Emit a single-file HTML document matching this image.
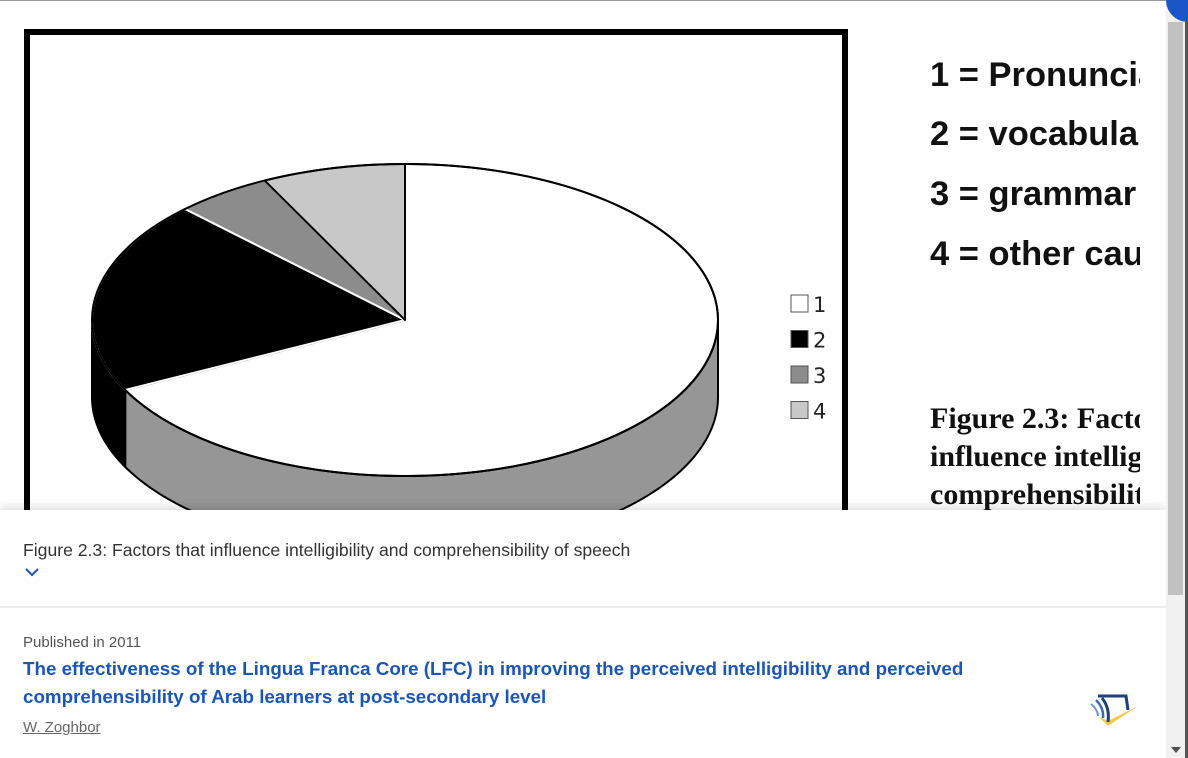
<!DOCTYPE html>
<html><head><meta charset="utf-8"><style>
html,body{margin:0;width:1188px;height:758px;overflow:hidden;background:#fff;font-family:"Liberation Sans",Arial,sans-serif;position:relative}
.abs{position:absolute}
.big{font-weight:bold;font-size:34.5px;color:#111;white-space:nowrap}
.ser{font-family:"Liberation Serif",serif;font-weight:bold;font-size:30px;color:#111;white-space:nowrap;line-height:38px}
</style></head><body>
<div class="abs" style="left:0;top:0;width:1188px;height:1px;background:#999"></div>
<div class="abs" style="left:0;top:1px;width:1140px;height:510px;overflow:hidden">
<svg id="pie" width="1140" height="510" style="position:absolute;left:0;top:0">
<rect x="27" y="31" width="818" height="520" fill="none" stroke="#000" stroke-width="6"/>
<g id="slices"></g>
<g id="legend" font-family="DejaVu Sans,sans-serif" font-size="21"></g>
</svg>
<div class="abs big" style="left:930px;top:55px">1 = Pronunciation</div>
<div class="abs big" style="left:930px;top:114px">2 = vocabulary</div>
<div class="abs big" style="left:930px;top:174px">3 = grammar</div>
<div class="abs big" style="left:930px;top:234px">4 = other causes</div>
<div class="abs ser" style="left:930px;top:399px">Figure 2.3: Factors that<br>influence intelligibility and<br>comprehensibility</div>
</div>
<div class="abs" style="left:0;top:510px;width:1166px;height:248px;background:#fff;box-shadow:0 -4px 8px rgba(0,0,0,0.12);overflow:hidden">
<div class="abs" style="left:23px;top:30px;font-size:17.6px;color:#333">Figure 2.3: Factors that influence intelligibility and comprehensibility of speech</div>
<svg class="abs" style="left:24px;top:56px" width="16" height="12"><path d="M2 3 L8 9 L14 3" fill="none" stroke="#1a56b8" stroke-width="2"/></svg>
<div class="abs" style="left:0;top:96px;width:1166px;height:2px;background:#eee"></div>
<div class="abs" style="left:23px;top:124px;font-size:15px;color:#555">Published in 2011</div>
<div class="abs" style="left:23px;top:145px;font-size:18.8px;font-weight:bold;color:#1a56b8;line-height:28px;width:980px">The effectiveness of the Lingua Franca Core (LFC) in improving the perceived intelligibility and perceived comprehensibility of Arab learners at post-secondary level</div>
<div class="abs" style="left:23px;top:209px;font-size:15px;color:#666;text-decoration:underline">W. Zoghbor</div>
<svg class="abs" style="left:1088px;top:184px" width="54" height="40">
<path d="M10 22 L20 32 L50 12 L20 27 Z" fill="#f3c94a"/>
<path d="M10 2 L38 2 L40 16" fill="none" stroke="#1f3f7a" stroke-width="3"/>
<path d="M14 4 Q22 14 20 28" fill="none" stroke="#1f3f7a" stroke-width="3"/>
<path d="M8 6 Q16 14 15 24" fill="none" stroke="#3d6bb3" stroke-width="2.5"/>
<path d="M3 10 Q10 16 10 22" fill="none" stroke="#6b95d1" stroke-width="2"/>
</svg>
</div>
<div class="abs" style="left:1166px;top:0;width:19px;height:758px;background:#f1f1f1"></div>
<div class="abs" style="left:1168px;top:22px;width:15px;height:573px;background:#c1c1c1"></div>
<svg class="abs" style="left:1170px;top:746px" width="12" height="8"><path d="M1 1 L11 1 L6 7 Z" fill="#505050"/></svg>
<div class="abs" style="left:1185px;top:0;width:3px;height:758px;background:#555"></div>
<div class="abs" style="left:1166px;top:-22px;width:44px;height:44px;border-radius:50%;background:#1a56c8"></div>
<script>
const categories=["1","2","3","4"];
const values=[67.6,20,5,7.4];
const topColors=["#ffffff","#000000","#8c8c8c","#c8c8c8"];
const sideColors=["#969696","#000000","#6e6e6e","#a0a0a0"];
const cx=405,cy=319,rx=313,ry=156,depth=77;
const NS="http://www.w3.org/2000/svg";
const g=document.getElementById('slices');
function P(t,d){const r=t*Math.PI/180;return [cx+rx*Math.sin(r),cy-ry*Math.cos(r)+(d||0)];}
const total=values.reduce((a,b)=>a+b,0);
let angles=[],acc=0;
values.forEach(v=>{angles.push([acc*360/total,(acc+v)*360/total]);acc+=v;});
angles.forEach((a,i)=>{
  const s=Math.max(a[0],90),e=Math.min(a[1],270);
  if(e<=s)return;
  let pts=[];
  for(let t=s;t<=e;t+=1)pts.push(P(t));pts.push(P(e));
  let back=[];
  for(let t=e;t>=s;t-=1)back.push(P(t,depth));back.push(P(s,depth));
  const p=document.createElementNS(NS,'polygon');
  p.setAttribute('points',pts.concat(back).map(q=>q.join(',')).join(' '));
  p.setAttribute('fill',sideColors[i]);p.setAttribute('stroke','#000');p.setAttribute('stroke-width','2');
  
  
  g.appendChild(p);
});
angles.forEach((a,i)=>{
  let pts=[[cx,cy]];
  for(let t=a[0];t<=a[1];t+=1)pts.push(P(t));pts.push(P(a[1]));
  const p=document.createElementNS(NS,'polygon');
  p.setAttribute('points',pts.map(q=>q.join(',')).join(' '));
  p.setAttribute('fill',topColors[i]);
  p.setAttribute('stroke',i==1||i==2?'#fff':'#000');p.setAttribute('stroke-width','2');
  p.setAttribute('stroke-linejoin','round');
  
  
  g.appendChild(p);
});
const el=document.createElementNS(NS,'ellipse');
el.setAttribute('cx',cx);el.setAttribute('cy',cy);el.setAttribute('rx',rx);el.setAttribute('ry',ry);
el.setAttribute('fill','none');el.setAttribute('stroke','#000');el.setAttribute('stroke-width','2');


g.appendChild(el);
const lg=document.getElementById('legend');
categories.forEach((c,i)=>{
  const y=294+i*35.5;
  const r=document.createElementNS(NS,'rect');
  r.setAttribute('x',791);r.setAttribute('y',y);r.setAttribute('width',17);r.setAttribute('height',17);
  r.setAttribute('fill',topColors[i]);r.setAttribute('stroke','#555');r.setAttribute('stroke-width','1');
  
  
  lg.appendChild(r);
  const t=document.createElementNS(NS,'text');
  t.setAttribute('x',813);t.setAttribute('y',y+17);t.textContent=c;t.setAttribute('fill','#222');
  
  
  lg.appendChild(t);
});
</script>
</body></html>
